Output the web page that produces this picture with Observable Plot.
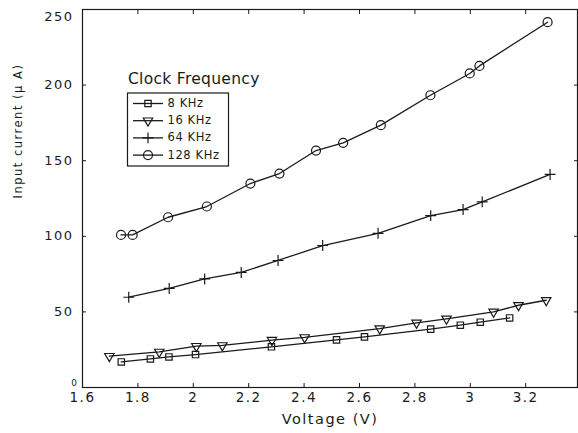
<!DOCTYPE html>
<html>
<head>
<meta charset="utf-8">
<script src="https://cdn.jsdelivr.net/npm/d3@7"></script>
<script src="https://cdn.jsdelivr.net/npm/@observablehq/plot@0.6"></script>
<style>
  body { margin: 0; background: #fff; }
  #chart { position: relative; width: 578px; height: 433px; }
</style>
</head>
<body>
<div id="chart"></div>
<script>
// ---- data ----
const seriesNames = ["8 KHz", "16 KHz", "64 KHz", "128 KHz"];
const v8   = [1.740, 1.845, 1.912, 2.008, 2.282, 2.517, 2.618, 2.857, 2.964, 3.036, 3.142];
const i8   = [16.9, 18.9, 20.2, 21.8, 26.9, 31.5, 33.5, 38.6, 41.2, 43.2, 46.0];
const v16  = [1.697, 1.877, 2.011, 2.105, 2.284, 2.402, 2.673, 2.806, 2.914, 3.084, 3.174, 3.274];
const i16  = [20.7, 23.5, 27.3, 27.8, 31.3, 33.1, 39.0, 42.7, 45.4, 50.0, 54.4, 57.7];
const v64  = [1.767, 1.913, 2.041, 2.173, 2.306, 2.467, 2.667, 2.857, 2.974, 3.043, 3.288];
const i64  = [59.7, 65.5, 71.8, 76.1, 84.0, 93.9, 102.0, 113.7, 117.7, 122.8, 140.9];
const v128 = [1.739, 1.781, 1.909, 2.049, 2.206, 2.311, 2.443, 2.541, 2.677, 2.856, 2.998, 3.033, 3.279];
const i128 = [100.9, 100.9, 112.6, 119.7, 134.9, 141.5, 156.7, 161.8, 173.5, 193.3, 207.7, 212.7, 241.6];
const xTicks = [1.6, 1.8, 2, 2.2, 2.4, 2.6, 2.8, 3, 3.2];
const yTicks = [0, 50, 100, 150, 200, 250];

const ink = "#1a1a1a";
const font = "DejaVu Sans";
const markers = [
  {symbol: "square",   r: 3.6, rotate: 0},
  {symbol: "triangle", r: 3.5, rotate: 180},
  {symbol: "plus",     r: 3.6, rotate: 0},
  {symbol: "circle",   r: 4.5, rotate: 0}
];
const vs = [v8, v16, v64, v128];
const is = [i8, i16, i64, i128];
const rows = [];
seriesNames.forEach((name, k) => vs[k].forEach((v, j) => rows.push({series: name, k, v, i: is[k][j]})));

const marks = [];
seriesNames.forEach((name, k) => {
  const d = rows.filter(r => r.k === k);
  marks.push(Plot.line(d, {x: "v", y: "i", stroke: ink, strokeWidth: 1.3}));
  marks.push(Plot.dot(d, {x: "v", y: "i", stroke: ink, strokeWidth: 1.2, fill: "none",
    symbol: markers[k].symbol, r: markers[k].r, rotate: markers[k].rotate}));
});

const chart = Plot.plot({
  width: 578,
  height: 433,
  marginLeft: 82,
  marginRight: 1,
  marginTop: 9,
  marginBottom: 46,
  style: {fontFamily: font, fontSize: "13px", color: ink, background: "#fff", letterSpacing: "1.5px"},
  x: {domain: [1.6, 3.387], label: null},
  y: {domain: [0, 250], label: null},
  marks: [
    Plot.frame({stroke: ink, strokeWidth: 1.2}),
    Plot.axisX({anchor: "bottom", ticks: xTicks, tickSize: -4, tickPadding: 9, tickFormat: d => String(d), label: null, stroke: ink, fill: ink, fontSize: 13.5}),
    Plot.axisX({anchor: "top", ticks: xTicks, tickSize: -4, tickFormat: () => "", label: null, stroke: ink}),
    Plot.axisY({anchor: "left", ticks: yTicks, tickSize: -4, tickPadding: 13, tickFormat: d => (d === 0 || d === 250) ? "" : String(d), label: null, stroke: ink, fill: ink, fontSize: 13}),
    Plot.axisY({anchor: "right", ticks: yTicks, tickSize: -4, tickFormat: () => "", label: null, stroke: ink}),
    Plot.text([250], {x: 1.6, y: d => d, text: d => String(d), textAnchor: "end", dx: -9, dy: 7, fontSize: 13, fill: ink}),
    Plot.text([0], {x: 1.6, y: d => d, text: d => String(d), textAnchor: "end", dx: -4, dy: -4, fontSize: 9, fill: ink, letterSpacing: 0}),
    Plot.text(["Voltage (V)"], {frameAnchor: "bottom", dy: 36, fontSize: 14.5, fill: ink, letterSpacing: 1.5}),
    Plot.text(["Input current (μ A)"], {frameAnchor: "left", dx: -64, rotate: -90, fontSize: 11.5, fill: ink, letterSpacing: 0.6}),
    ...marks
  ]
});
document.getElementById("chart").appendChild(chart);

// ---- legend (drawn into the same svg) ----
const svg = d3.select(chart);
const lg = svg.append("g").attr("font-family", font).attr("fill", ink).attr("text-anchor", "start");
lg.append("text").attr("x", 128).attr("y", 79).attr("dominant-baseline", "middle")
  .attr("font-size", 15.5).attr("letter-spacing", "0.3px").text("Clock Frequency");
lg.append("rect").attr("x", 127.5).attr("y", 93).attr("width", 101).attr("height", 73)
  .attr("fill", "#fff").attr("stroke", ink).attr("stroke-width", 1.2);
const symMap = {square: d3.symbolSquare, triangle: d3.symbolTriangle, plus: d3.symbolPlus, circle: d3.symbolCircle};
const entryY = [103.5, 120.7, 137.9, 155.1];
seriesNames.forEach((name, k) => {
  const y = entryY[k];
  lg.append("line").attr("x1", 133).attr("x2", 163).attr("y1", y).attr("y2", y)
    .attr("stroke", ink).attr("stroke-width", 1.3);
  const m = markers[k];
  lg.append("path").attr("d", d3.symbol(symMap[m.symbol], Math.PI * m.r * m.r)())
    .attr("transform", `translate(148,${y}) rotate(${m.rotate})`)
    .attr("fill", "none").attr("stroke", ink).attr("stroke-width", 1.2);
  lg.append("text").attr("x", 167.5).attr("y", y).attr("dominant-baseline", "middle")
    .attr("font-size", 11.5).attr("letter-spacing", "0.6px").text(name);
});
</script>
</body>
</html>
